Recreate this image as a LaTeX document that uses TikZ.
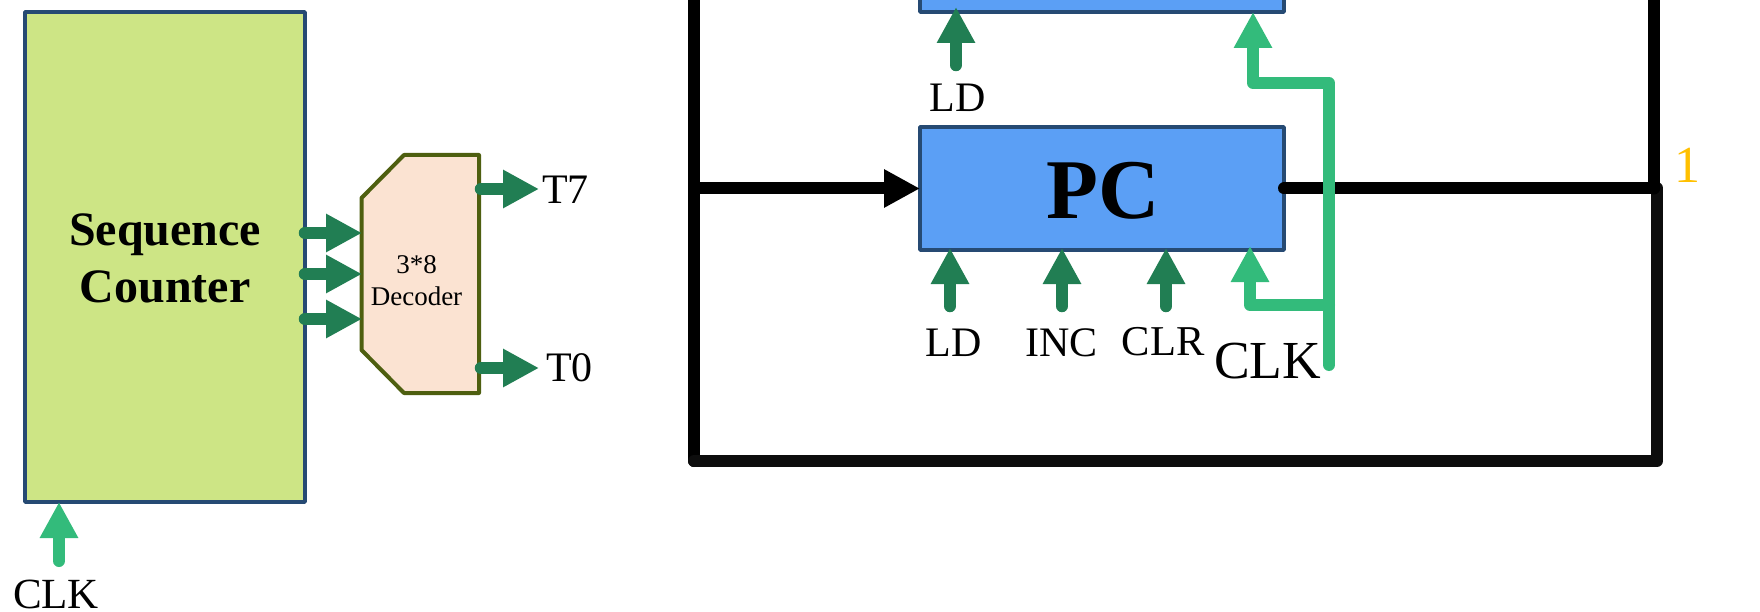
\documentclass[tikz,border=0pt]{standalone}
\usepackage{fontspec}
\setmainfont{Liberation Serif}
\usetikzlibrary{arrows.meta}
\definecolor{limefill}{HTML}{CDE585}
\definecolor{boxedge}{HTML}{264A73}
\definecolor{regfill}{HTML}{5B9FF5}
\definecolor{decfill}{HTML}{FBE3D2}
\definecolor{decedge}{HTML}{4E5F10}
\definecolor{ctrl}{HTML}{217E53}
\definecolor{clkc}{HTML}{33BB7B}
\definecolor{wire}{HTML}{000000}
\definecolor{framec}{HTML}{0D0D0D}
\definecolor{onec}{HTML}{FFC000}
\newcommand{\fsz}[1]{\fontsize{#1}{#1}\selectfont}
\tikzset{
  x=1pt,y=-1pt,
  boxnode/.style={draw=boxedge,line width=3.5pt,inner sep=0pt,outer sep=0pt,line join=round,anchor=north west},
  regbox/.style={boxnode,fill=regfill},
  lbl/.style={inner sep=0pt,outer sep=0pt,anchor=base,font=\fsz{42}},
  bigtip/.style={-{Triangle[length=36pt,width=36pt]}},
  poke/.style={shorten >=-#1},
  ctrlarrow/.style={draw=ctrl,fill=ctrl,line width=12.5pt,line cap=round,line join=round,bigtip,ctrl},
  clkarrow/.style={draw=clkc,line width=12pt,line cap=round,line join=round,bigtip,clkc},
  wireline/.style={draw=wire,line width=12pt,line cap=round,line join=round},
  frameline/.style={draw=framec,line width=12pt,line cap=round,line join=round},
}
\begin{document}
\begin{tikzpicture}
\clip (0,0) rectangle (1760,612);
\fill[white] (0,0) rectangle (1760,612);

% sequence counter
\node[boxnode,fill=limefill,minimum width=280pt,minimum height=490pt,align=center,text height=90pt,text depth=0pt,font=\fsz{48}\bfseries] (sc) at (25,12) {Sequence\\[9pt]Counter};
\coordinate (scclk) at (59,561);
\draw[clkarrow] (scclk) -- (scclk |- sc.south);
\node[lbl,font=\fsz{43}] (sclbl) at (56,608) {CLK};

% decoder
\coordinate (d1) at (404,155);
\coordinate (d2) at (479,155);
\coordinate (d3) at (479,393);
\coordinate (d4) at (404,393);
\coordinate (d5) at (361.5,350);
\coordinate (d6) at (361.5,198);
\draw[draw=decedge,fill=decfill,line width=4pt,line join=round] (d1) -- (d2) -- (d3) -- (d4) -- (d5) -- (d6) -- cycle;
\node[inner sep=0pt,outer sep=0pt,align=center,font=\fsz{27}] (dec) at (416.5,280.5) {3*8\\[5pt]Decoder};
\coordinate (sa) at (305,233);
\coordinate (sb) at (305,274);
\coordinate (sc3) at (305,319);
\coordinate (ta) at (362,233);
\coordinate (tb) at (362,274);
\coordinate (tc) at (362,319);
\draw[ctrlarrow] (sa) -- (ta);
\draw[ctrlarrow] (sb) -- (tb);
\draw[ctrlarrow] (sc3) -- (tc);
\coordinate (o7) at (481,189);
\coordinate (o7t) at (539,189);
\coordinate (o0) at (481,368);
\coordinate (o0t) at (539,368);
\draw[ctrlarrow] (o7) -- (o7t);
\draw[ctrlarrow] (o0) -- (o0t);
\node[lbl,anchor=base west] (t7) at (542,204) {T7};
\node[lbl,anchor=base west] (t0) at (546,381) {T0};

% wires
\coordinate (fa) at (694,-20);
\coordinate (fb) at (694,461);
\coordinate (fc) at (1657,461);
\coordinate (fd) at (1657,188);
\coordinate (top) at (1654,-20);
\coordinate (join) at (1654,188);
\coordinate (inl) at (694,188);

% registers
\node[regbox,minimum width=364pt,minimum height=92pt] (reg) at (920,-80) {};
\node[regbox,minimum width=364pt,minimum height=123pt,text height=61pt,text depth=0pt,font=\fsz{85}\bfseries] (pc) at (920,127) {\hspace*{3pt}PC};

\draw[wireline] (fa) -- (fb);
\draw[frameline] (fb) -- (fc) -- (fd);
\draw[wireline] (top) -- (join |- pc.east);
\draw[wireline,bigtip,wire] (inl |- pc.west) -- (pc.west);
\draw[wireline] (pc.east) -- (join |- pc.east);

% control arrows
\coordinate (ldtop) at (956,65);
\draw[ctrlarrow,poke=5pt] (ldtop) -- (ldtop |- reg.south);
\node[lbl] (ldtoplbl) at (957.5,112) {LD};
\coordinate (ldpc) at (950,306);
\coordinate (incpc) at (1062,306);
\coordinate (clrpc) at (1166,306);
\draw[ctrlarrow,poke=2pt] (ldpc) -- (ldpc |- pc.south);
\draw[ctrlarrow,poke=2pt] (incpc) -- (incpc |- pc.south);
\draw[ctrlarrow,poke=2pt] (clrpc) -- (clrpc |- pc.south);
\node[lbl] (ldlbl) at (953.5,356) {LD};
\node[lbl] (inclbl) at (1061.5,356) {INC};
\node[lbl,font=\fsz{42.5}] (clrlbl) at (1163,355) {CLR};

% clock
\coordinate (ck0) at (1329,365);
\coordinate (ck1) at (1329,83);
\coordinate (ck2) at (1253,83);
\coordinate (ck3) at (1329,305);
\coordinate (ck4) at (1250,305);
\draw[clkarrow] (ck0) -- (ck1) -- (ck2) -- (ck2 |- reg.south);
\draw[clkarrow,poke=4pt] (ck3) -- (ck4) -- (ck4 |- pc.south);
\node[lbl,font=\fsz{53.5}] (clklbl) at (1267.5,378) {CLK};

\node[lbl,font=\fsz{52},text=onec] (one) at (1687,183) {1};
\end{tikzpicture}
\end{document}
